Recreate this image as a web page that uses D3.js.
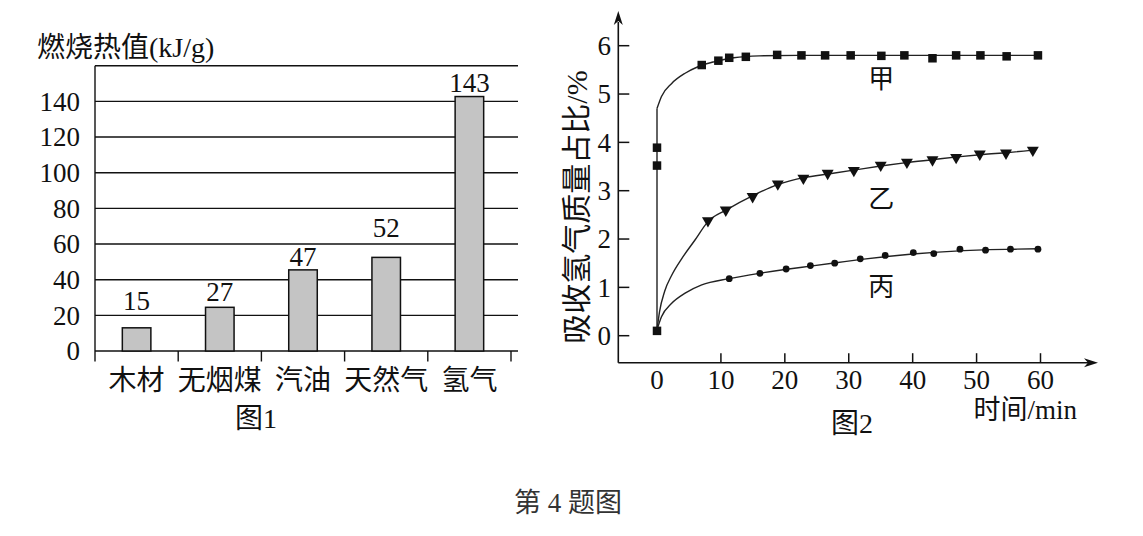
<!DOCTYPE html>
<html><head><meta charset="utf-8">
<script src="https://cdn.jsdelivr.net/npm/d3@7"></script>
<style>
html,body{margin:0;padding:0;background:#fff;}
svg text{font-family:"Liberation Serif","Noto Sans CJK SC",serif;fill:#111;}
</style></head>
<body>
<svg id="c" width="1143" height="536"></svg>
<script>
// ---------- Figure 1 data ----------
const categories = ['木材','无烟煤','汽油','天然气','氢气'];
const barValues = [13, 24.5, 45.5, 52.5, 142.7];
const valueLabels = ['15','27','47','52','143'];
const labelLevels = [23.2, 28, 47.9, 64.1, 145.1];
const leftTicks = [0,20,40,60,80,100,120,140];

// ---------- Figure 2 data ----------
const xTicks = [0,10,20,30,40,50,60];
const yTicks = [0,1,2,3,4,5,6];
const jiaT = [0,0,0,7.0,9.6,11.3,13.9,18.8,22.6,26.3,30.3,35.1,38.7,43.1,46.8,50.6,54.7,59.6];
const jiaV = [0.1,3.52,3.89,5.6,5.69,5.75,5.77,5.81,5.8,5.8,5.8,5.79,5.8,5.74,5.8,5.8,5.78,5.8];
const yiT = [7.97,10.76,14.96,18.9,22.9,26.7,30.8,35.0,39.1,43.1,46.8,50.5,54.6,58.8];
const yiV = [2.38,2.60,2.88,3.14,3.26,3.36,3.42,3.53,3.59,3.64,3.69,3.76,3.78,3.84];
const bingT = [11.3,16.1,20.2,24.0,27.8,31.8,35.7,40.1,43.3,47.4,51.4,55.3,59.6];
const bingV = [1.18,1.29,1.38,1.45,1.50,1.59,1.66,1.72,1.70,1.79,1.77,1.79,1.79];
// fitted curves as drawn in the figure
const jiaCurveT = [0,0.7,2.3,4.4,6.5,9,12,16,22,30,40,50,59.6];
const jiaCurveV = [4.7,4.95,5.22,5.43,5.57,5.67,5.75,5.79,5.8,5.8,5.8,5.8,5.8];
const jiaRiseT = [0,0];
const jiaRiseV = [0.1,4.7];
const yiCurveT = [0,0.4,1.2,2.3,3.9,6,7.97,10.8,15,19,23,27,31,35,39,43,47,51,55,58.8];
const yiCurveV = [0.12,0.5,0.92,1.25,1.6,1.99,2.36,2.6,2.9,3.13,3.27,3.35,3.43,3.51,3.58,3.64,3.7,3.75,3.79,3.84];
const bingCurveT = [0,0.7,2.3,4.4,7,11.3,16,20,24,28,32,36,40,44,48,52,56,59.6];
const bingCurveV = [0.12,0.39,0.67,0.88,1.05,1.18,1.29,1.37,1.44,1.51,1.58,1.64,1.69,1.73,1.76,1.78,1.79,1.8];
const seriesNames = ['甲','乙','丙'];
const seriesNameAt = [[35.1,5.31],[35.1,2.83],[35.1,1.01]];

const svg = d3.select('#c');

// ================= Figure 1 =================
const g1 = svg.append('g');
const x1 = d3.scaleBand().domain(categories).range([95, 511]).paddingInner(0).paddingOuter(0);
const y1 = d3.scaleLinear().domain([0,160]).range([351, 65.7]);
const gridRight = 518;

g1.selectAll('line.grid').data(leftTicks.concat([160])).join('line')
  .attr('x1', 95).attr('x2', gridRight)
  .attr('y1', d => y1(d)).attr('y2', d => y1(d))
  .attr('stroke', '#111').attr('stroke-width', 1.4);

g1.append('line').attr('x1',95).attr('x2',95).attr('y1',y1(160)).attr('y2',y1(0)+10.5)
  .attr('stroke','#111').attr('stroke-width',1.4);

const bounds = categories.map(c => x1(c)).concat([x1(categories[categories.length-1]) + x1.bandwidth()]);
g1.selectAll('line.ctick').data(bounds.slice(1)).join('line')
  .attr('x1', d=>d).attr('x2', d=>d).attr('y1', y1(0)).attr('y2', y1(0)+10.5)
  .attr('stroke','#111').attr('stroke-width',1.4);

g1.selectAll('text.yt').data(leftTicks).join('text')
  .attr('x', 80).attr('y', d => y1(d)).attr('dy','0.34em')
  .attr('text-anchor','end').attr('font-size',27).text(d => d);

const barW = x1.bandwidth()*0.343;
g1.selectAll('rect.bar').data(barValues).join('rect')
  .attr('x', (d,i) => x1(categories[i]) + (x1.bandwidth()-barW)/2)
  .attr('width', barW)
  .attr('y', d => y1(d)).attr('height', d => y1(0)-y1(d))
  .attr('fill','#c4c4c4').attr('stroke','#111').attr('stroke-width',1.5);

g1.selectAll('text.vl').data(valueLabels).join('text')
  .attr('x', (d,i) => x1(categories[i]) + x1.bandwidth()/2)
  .attr('y', (d,i) => y1(labelLevels[i]))
  .attr('text-anchor','middle').attr('font-size',27).text(d => d);

g1.selectAll('text.cat').data(categories).join('text')
  .attr('x', d => x1(d) + x1.bandwidth()/2).attr('y', 380).attr('dy','0.36em')
  .attr('text-anchor','middle').attr('font-size',28).text(d => d);

g1.append('text').attr('x',37).attr('y',47).attr('dy','0.36em')
  .attr('font-size',28).text('燃烧热值(kJ/g)');
g1.append('text').attr('x',256).attr('y',418).attr('dy','0.36em')
  .attr('text-anchor','middle').attr('font-size',28).text('图1');

// ================= Figure 2 =================
const g2 = svg.append('g');
const x2 = d3.scaleLinear().domain([0,60]).range([657, 1040.5]);
const y2 = d3.scaleLinear().domain([0,6]).range([335.7, 45.7]);
const axX = 618.3, axY = 362.7;

g2.append('line').attr('x1',axX).attr('x2',axX).attr('y1',axY).attr('y2',22)
  .attr('stroke','#111').attr('stroke-width',1.6);
g2.append('path').attr('d',`M${axX},11 L${axX-4.5},25 L${axX},21 L${axX+4.5},25 Z`).attr('fill','#111');
g2.append('line').attr('x1',axX).attr('x2',1088).attr('y1',axY).attr('y2',axY)
  .attr('stroke','#111').attr('stroke-width',1.6);
g2.append('path').attr('d',`M1098,${axY} L1084,${axY-4.5} L1088,${axY} L1084,${axY+4.5} Z`).attr('fill','#111');

g2.selectAll('line.yt').data(yTicks).join('line')
  .attr('x1',axX).attr('x2',axX+11).attr('y1',d=>y2(d)).attr('y2',d=>y2(d))
  .attr('stroke','#111').attr('stroke-width',1.5);
g2.selectAll('text.yt').data(yTicks).join('text')
  .attr('x', 611).attr('y', d=>y2(d)).attr('dy','0.34em')
  .attr('text-anchor','end').attr('font-size',27).text(d=>d);
g2.selectAll('line.xt').data(xTicks.filter(d=>d>0)).join('line')
  .attr('x1',d=>x2(d)).attr('x2',d=>x2(d)).attr('y1',axY).attr('y2',axY-9.5)
  .attr('stroke','#111').attr('stroke-width',1.5);
g2.selectAll('text.xt').data(xTicks).join('text')
  .attr('x', d=>x2(d)).attr('y', 380).attr('dy','0.34em')
  .attr('text-anchor','middle').attr('font-size',27).text(d=>d);

g2.append('text').attr('x',1077).attr('y',409).attr('dy','0.36em')
  .attr('text-anchor','end').attr('font-size',27).text('时间/min');
g2.append('text').attr('transform','translate(576,207) rotate(-90)').attr('dy','0.36em')
  .attr('text-anchor','middle').attr('font-size',30).text('吸收氢气质量占比/%');
g2.append('text').attr('x',852).attr('y',423).attr('dy','0.36em')
  .attr('text-anchor','middle').attr('font-size',28).text('图2');

const lineM = d3.line().x(d=>x2(d[0])).y(d=>y2(d[1])).curve(d3.curveMonotoneX);
const lineL = d3.line().x(d=>x2(d[0])).y(d=>y2(d[1]));
const zip = (a,b) => a.map((v,i)=>[v,b[i]]);
g2.append('path').attr('d', lineL(zip(jiaRiseT,jiaRiseV))).attr('fill','none').attr('stroke','#222').attr('stroke-width',1.4);
[[jiaCurveT,jiaCurveV],[yiCurveT,yiCurveV],[bingCurveT,bingCurveV]].forEach(([t,v])=>{
  g2.append('path').attr('d', lineM(zip(t,v))).attr('fill','none').attr('stroke','#222').attr('stroke-width',1.4);
});

const sq = 8.5;
g2.selectAll('rect.jia').data(zip(jiaT,jiaV)).join('rect')
  .attr('x', d=>x2(d[0])-sq/2).attr('y', d=>y2(d[1])-sq/2).attr('width',sq).attr('height',sq).attr('fill','#111');
const tri = d3.symbol().type(d3.symbolTriangle).size(62);
g2.selectAll('path.yi').data(zip(yiT,yiV)).join('path')
  .attr('d', tri).attr('transform', d=>`translate(${x2(d[0])},${y2(d[1])}) rotate(180)`).attr('fill','#111');
g2.selectAll('circle.bing').data(zip(bingT,bingV)).join('circle')
  .attr('cx', d=>x2(d[0])).attr('cy', d=>y2(d[1])).attr('r',3.4).attr('fill','#111');

g2.selectAll('text.sn').data(seriesNames).join('text')
  .attr('x',(d,i)=>x2(seriesNameAt[i][0])).attr('y',(d,i)=>y2(seriesNameAt[i][1])).attr('dy','0.36em')
  .attr('text-anchor','middle').attr('font-size',26).text(d=>d);

svg.append('text').attr('x',568).attr('y',502).attr('dy','0.36em')
  .attr('text-anchor','middle').attr('font-size',27).style('fill','#333').text('第 4 题图');
</script>
</body></html>
